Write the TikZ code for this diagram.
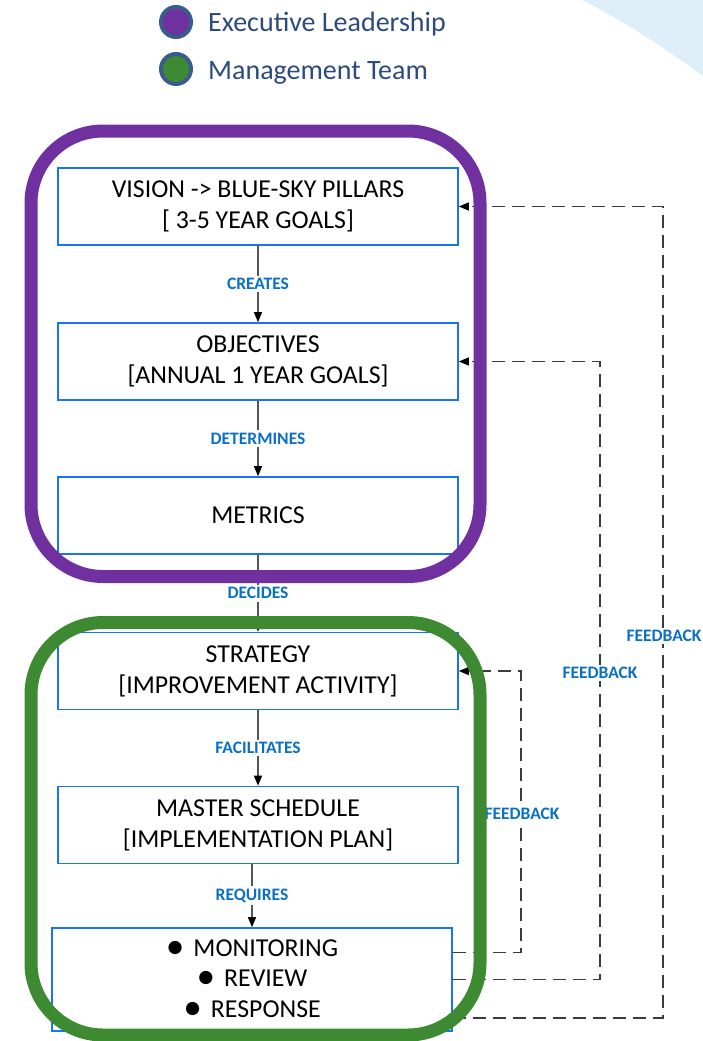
\documentclass[tikz,border=0pt]{standalone}
\usepackage{fontspec}
\setmainfont{Carlito}
\usetikzlibrary{arrows.meta}
\definecolor{purp}{HTML}{7030A0}
\definecolor{grn}{HTML}{3E8A32}
\definecolor{boxblue}{HTML}{1874F0}
\definecolor{lblblue}{HTML}{0A70C4}
\definecolor{legborder}{HTML}{3A5C8C}
\definecolor{legtext}{HTML}{2C4A7A}
\definecolor{sky}{HTML}{DDEEF9}
\definecolor{dashgray}{HTML}{3C3C3C}
\definecolor{linegray}{HTML}{555555}
\newcommand{\bul}{\raisebox{-1.8pt}{\scalebox{1.45}{\textbullet}}\hspace{9pt}}
\begin{document}
\begin{tikzpicture}[x=1pt,y=-1pt,
  stepbox/.style={draw=boxblue, line width=1.6pt, fill=white, minimum width=400pt,
    minimum height=77pt, align=center, font=\fontsize{25.8}{31}\selectfont, inner sep=0pt},
  lbl/.style={fill=white, text=lblblue, font=\fontsize{17.5}{19}\selectfont\bfseries, inner sep=2.5pt},
  conn/.style={draw=linegray, line width=1.3pt, -{Triangle[length=10pt,width=8pt,color=black]}},
  fbline/.style={draw=dashgray, line width=1.2pt, dash pattern=on 13pt off 7pt,
    -{Triangle[length=10pt,width=8pt,color=black]}},
  legdot/.style={circle, draw=legborder, line width=4pt, minimum size=30pt, inner sep=0pt},
  legtxt/.style={anchor=base west, text=legtext, font=\fontsize{28}{32}\selectfont, inner sep=0pt},
  ring/.style={line width=13pt, rounded corners=72pt}
]
\useasboundingbox (0,0) rectangle (703,1041);
% background sky shape
\fill[sky] (582,0) .. controls (622,20) and (662,46) .. (703,76) -- (703,0) -- cycle;

% legend
\node[legdot, fill=purp] (c1) at (176,22) {};
\node[legdot, fill=grn] (c2) at (176,69) {};
\node[legtxt] (t1) at (208,32) {Executive Leadership};
\node[legtxt] (t2) at (208,79) {Management Team};

% boxes
\node[stepbox] (b1) at (258,206.5) {VISION -> BLUE-SKY PILLARS\\{[} 3-5 YEAR GOALS{]}};
\node[stepbox] (b2) at (258,361.5) {OBJECTIVES\\{[}ANNUAL 1 YEAR GOALS{]}};
\node[stepbox] (b3) at (258,515.5) {METRICS};
\node[stepbox] (b4) at (258,671) {STRATEGY\\{[}IMPROVEMENT ACTIVITY{]}};
\node[stepbox] (b5) at (258,825) {MASTER SCHEDULE\\{[}IMPLEMENTATION PLAN{]}};
\node[stepbox, minimum height=103pt, font=\fontsize{25.8}{30.5}\selectfont] (b6) at (252,979.5)
  {\bul MONITORING\\\bul REVIEW\\\bul RESPONSE};

% feedback bend points
\coordinate (f1) at (521,671);
\coordinate (f2) at (600,361.5);
\coordinate (f3) at (663,206.5);

% feedback dashed connectors
\draw[fbline] ([yshift=27pt]b6.east) -| (f1) -- (b4.east);
\draw[fbline] (b6.east) -| (f2) -- (b2.east);
\draw[fbline] ([yshift=-38.5pt]b6.east) -| (f3) -- (b1.east);
\node[lbl] (fb1) at (522,814) {FEEDBACK};
\node[lbl] (fb2) at (600,673) {FEEDBACK};
\node[lbl] (fb3) at (664,636) {FEEDBACK};

% main connectors
\draw[conn] (b1.south) -- node[lbl]{CREATES} (b2.north);
\draw[conn] (b2.south) -- node[lbl]{DETERMINES} (b3.north);
\draw[conn] (b3.south) -- node[lbl]{DECIDES} (b4.north);
\draw[conn] (b4.south) -- node[lbl]{FACILITATES} (b5.north);
\draw[conn] (b5.south -| b6.north) -- node[lbl]{REQUIRES} (b6.north);

% grouping rings
\draw[ring, purp] (31,131) rectangle (480,576.5);
\draw[ring, grn] (31,622.5) rectangle (480,1035);
\end{tikzpicture}
\end{document}
